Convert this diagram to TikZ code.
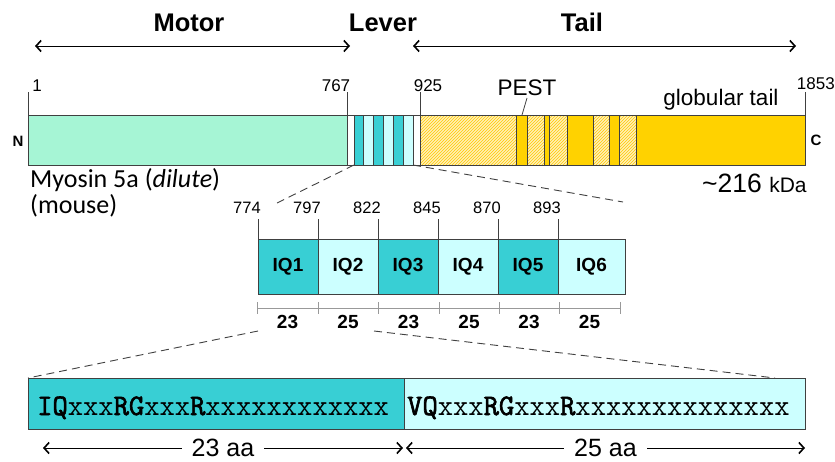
\documentclass[tikz,border=0pt]{standalone}
\usepackage{fontspec}
\setmainfont{Liberation Sans}
\newfontfamily\calfont{Carlito}
\newfontfamily\seqfont{Latin Modern Mono}[AutoFakeBold=2.2]
\usetikzlibrary{arrows.meta,patterns}
\definecolor{mint}{HTML}{A6F5D5}
\definecolor{tealc}{HTML}{38CFD4}
\definecolor{lightc}{HTML}{CCFFFF}
\definecolor{goldc}{HTML}{FFD200}
\definecolor{hatchbg}{HTML}{FFF0B8}
\definecolor{edge}{HTML}{404040}
\newcommand\topseg[4]{\node[seg,#4,minimum width={(#3-#2)*1pt}] (#1) at ({(#2+#3)/2},140) {};}
\newcommand\sqb[1]{{\bfseries #1}}
\newcommand\fs[1]{\fontsize{#1}{#1}\selectfont}
\begin{document}
\begin{tikzpicture}[x=1pt,y=-1pt,
  seg/.style={draw=edge,line width=0.8pt,inner sep=0pt,outer sep=0pt,minimum height=50pt},
  mintseg/.style={fill=mint},
  tealseg/.style={fill=tealc},
  lightseg/.style={fill=lightc},
  whiteseg/.style={fill=white},
  goldseg/.style={fill=goldc},
  hatchseg/.style={preaction={fill=hatchbg},pattern=north east lines,pattern color=goldc!90!orange},
  iqbox/.style={draw=edge,line width=0.8pt,inner sep=0pt,outer sep=0pt,minimum height=55pt,minimum width=60pt,font=\fs{19}\bfseries},
  seqbox/.style={draw=edge,line width=0.8pt,inner sep=0pt,outer sep=0pt,minimum height=51pt},
  tickline/.style={draw=edge,line width=0.8pt},
  zoomline/.style={draw=edge,line width=0.9pt,dash pattern=on 8pt off 5pt},
  span/.style={line width=1pt,{Straight Barb[length=5pt,width=11pt,line width=1.6pt]}-{Straight Barb[length=5pt,width=11pt,line width=1.6pt]}},
  head/.style={font=\fs{25.5}\bfseries,anchor=base},
  num/.style={font=\fs{17},anchor=base},
  small/.style={font=\fs{16.5},anchor=base},
  scalec/.style={draw=black!40,line width=0.9pt}
]
\useasboundingbox (0,0) rectangle (835,461);

% headings
\node[head] (motor) at (189,31) {Motor};
\node[head] (lever) at (383,31) {Lever};
\node[head] (tail) at (582,31) {Tail};
\coordinate (mL) at (35,46); \coordinate (mR) at (350,46);
\coordinate (tL) at (413,46); \coordinate (tR) at (796,46);
\draw[span] (mL) -- (mR);
\draw[span] (tL) -- (tR);

% top bar
\topseg{green}{28}{347}{mintseg}
\topseg{w1}{347}{354}{whiteseg}
\topseg{t1}{354}{363}{tealseg}
\topseg{l1}{363}{373}{lightseg}
\topseg{t2}{373}{383}{tealseg}
\topseg{l2}{383}{393}{lightseg}
\topseg{t3}{393}{403}{tealseg}
\topseg{l3}{403}{413}{lightseg}
\topseg{w2}{413}{420}{whiteseg}
\topseg{h1}{420}{516}{hatchseg}
\topseg{g1}{516}{527}{goldseg}
\topseg{h2}{527}{544}{hatchseg}
\topseg{g2}{544}{549}{goldseg}
\topseg{h3}{549}{567}{hatchseg}
\topseg{g3}{567}{593}{goldseg}
\topseg{h4}{593}{609}{hatchseg}
\topseg{g4}{609}{619}{goldseg}
\topseg{h5}{619}{636}{hatchseg}
\topseg{g5}{636}{805}{goldseg}

% ticks on top bar
\coordinate (k1) at (28,92); \coordinate (k767) at (347,92);
\coordinate (k925) at (420,92); \coordinate (k1853) at (805,92);
\draw[tickline] (k1) -- (green.north west);
\draw[tickline] (k767) -- (green.north east);
\draw[tickline] (k925) -- (h1.north west);
\draw[tickline] (k1853) -- (g5.north east);
\node[num] (n1) at (37,91) {1};
\node[num] (n767) at (336,91) {767};
\node[num] (n925) at (428,91) {925};
\node[num,anchor=base east,inner xsep=0pt] (n1853) at (835,89) {1853};
\node[font=\fs{22.5},anchor=base] (pest) at (527,95) {PEST};
\coordinate (pestp) at (527,98); \coordinate (pestq) at (522,115);
\draw[tickline] (pestp) -- (pestq);
\node[font=\fs{22.5},anchor=base] (glob) at (721,105) {globular tail};
\node[font=\fs{15}\bfseries] (N) at (18,141) {N};
\node[font=\fs{15}\bfseries] (C) at (816,140) {C};

\node[font=\calfont\fs{26},anchor=base west,inner sep=0pt] (myo) at (30,187) {Myosin 5a (\textit{dilute})};
\node[font=\calfont\fs{26},anchor=base west,inner sep=0pt] (mouse) at (30,213) {(mouse)};
\node[anchor=base west,inner sep=0pt] (kda) at (702,192) {\fs{26.5}\textasciitilde216 \fs{21}kDa};

% zoom lines top -> middle
\coordinate (zA) at (277,203); \coordinate (zB) at (623,202);
\draw[zoomline] (t1.south west) -- (zA);
\draw[zoomline] (l3.south east) -- (zB);

% IQ boxes
\node[iqbox,fill=tealc] (iq1) at (288,266.5) {IQ1};
\node[iqbox,fill=lightc] (iq2) at (348,266.5) {IQ2};
\node[iqbox,fill=tealc] (iq3) at (408,266.5) {IQ3};
\node[iqbox,fill=lightc] (iq4) at (468,266.5) {IQ4};
\node[iqbox,fill=tealc] (iq5) at (528,266.5) {IQ5};
\node[iqbox,fill=lightc,minimum width=67pt] (iq6) at (591.5,266.5) {IQ6};

\foreach \nm/\x/\lab in {iq1/258/774,iq2/318/797,iq3/378/822,iq4/438/845,iq5/498/870,iq6/558/893}{
  \coordinate (tk\nm) at (\x,219);
  \draw[tickline] (tk\nm) -- (\nm.north west);
  \node[small] (lab\nm) at (\x-11,213) {\lab};
}

% scale bar
\coordinate (s0) at (257,308); \coordinate (s6) at (620,308);
\draw[scalec] (s0) -- (s6);
\foreach \x in {257,318,378,439,499,559,620}{
  \draw[scalec] (\x,302) -- (\x,314);
}
\foreach \x/\v in {287.5/23,348/25,408.5/23,469/25,529/23,589.5/25}{
  \node[font=\fs{19}\bfseries,anchor=base] at (\x,328) {\v};
}

% bottom boxes
\node[seqbox,fill=tealc,minimum width=376pt] (seqA) at (216,403.5) {};
\node[seqbox,fill=lightc,minimum width=401pt] (seqB) at (604.5,403.5) {};
\node[anchor=base west,inner sep=0pt,font=\seqfont\fs{29.7}] (seqtA) at (37,415)
  {\sqb{IQ}xxx\sqb{RG}xxx\sqb{R}xxxxxxxxxxxx};
\node[anchor=base west,inner sep=0pt,font=\seqfont\fs{29.7}] (seqtB) at (407,415)
  {\sqb{VQ}xxx\sqb{RG}xxx\sqb{R}xxxxxxxxxxxxxx};

% zoom lines middle -> bottom
\coordinate (zC) at (258,331); \coordinate (zD) at (374,331); \coordinate (zE) at (775,378);
\draw[zoomline] (zC) -- (seqA.north west);
\draw[zoomline] (zD) -- (zE);

% bottom spans
\coordinate (bL) at (43,448); \coordinate (bM1) at (403,448);
\coordinate (bM2) at (406,448); \coordinate (bR) at (805,448);
\draw[span] (bL) -- node[fill=white,inner xsep=10pt,inner ysep=0pt,font=\fs{25}] (aa23) {23 aa} (bM1);
\draw[span] (bM2) -- node[fill=white,inner xsep=10pt,inner ysep=0pt,font=\fs{25}] (aa25) {25 aa} (bR);
\end{tikzpicture}
\end{document}
